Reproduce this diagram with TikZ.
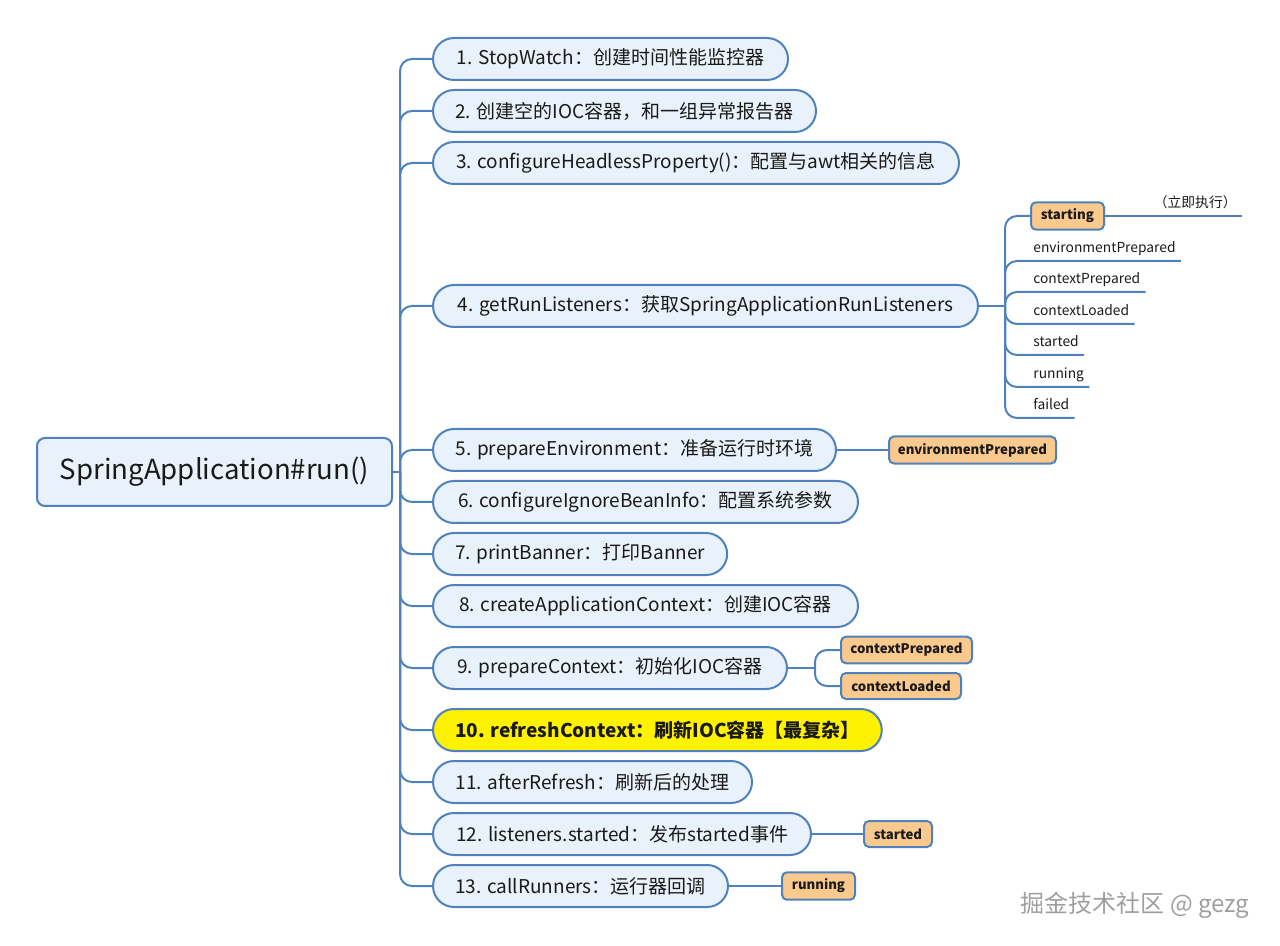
\documentclass[tikz,border=0pt]{standalone}
\usepackage{fontspec}
\setmainfont{Noto Sans CJK SC}
\usetikzlibrary{positioning}

\definecolor{linkblue}{HTML}{4F81BD}
\definecolor{stepfill}{HTML}{E9F1FA}
\definecolor{tagorange}{HTML}{FAC98E}
\definecolor{txt}{HTML}{1A1A1A}

\begin{document}
\begin{tikzpicture}[x=0.5pt,y=-0.5pt,
  link/.style={draw=linkblue,line width=1pt,rounded corners=6pt},
  stepbox/.style={rectangle,rounded corners=10.5pt,draw=linkblue,line width=1pt,fill=stepfill,minimum height=21pt,
    anchor=west,inner xsep=11pt,font=\fontsize{9.5}{12}\selectfont,text=txt},
  tag/.style={rectangle,rounded corners=2.5pt,draw=linkblue,line width=1pt,fill=tagorange,
    minimum height=13pt,inner xsep=3pt,anchor=west,font=\fontsize{6.6}{8}\selectfont\bfseries,text=txt},
  event/.style={inner xsep=2.5pt,inner ysep=1.5pt,text height=0.75em,text depth=0.25em,
    anchor=south west,font=\fontsize{6.9}{8}\selectfont,text=txt}]

  \useasboundingbox (0,0) rectangle (1280,946);

  \node[rectangle,rounded corners=4pt,draw=linkblue,line width=1pt,fill=stepfill,minimum width=177.5pt,
    minimum height=34pt,font=\fontsize{13.8}{16}\selectfont,text=txt] (root) at (214.5,472) {SpringApplication\#run()};
  \coordinate (hub) at ([xshift=3.5pt]root.east);
  \draw[link] (root.east) -- (hub);

  % steps of run()
  \foreach \n/\y/\w/\lab in {1/59/177.5/{1. StopWatch：创建时间性能监控器},
      2/111/191.5/{2. 创建空的IOC容器，和一组异常报告器},
      3/163/263/{3. configureHeadlessProperty()：配置与awt相关的信息},
      4/306/272.5/{4. getRunListeners：获取SpringApplicationRunListeners},
      5/450/201.5/{5. prepareEnvironment：准备运行时环境},
      6/502/212.5/{6. configureIgnoreBeanInfo：配置系统参数},
      7/554/147/{7. printBanner：打印Banner},
      8/606/212.5/{8. createApplicationContext：创建IOC容器},
      9/668/177/{9. prepareContext：初始化IOC容器},
      11/782/159.5/{11. afterRefresh：刷新后的处理},
      12/834/189/{12. listeners.started：发布started事件},
      13/886/147.5/{13. callRunners：运行器回调}}{
    \node[stepbox,minimum width=\w pt] (s\n) at (432,\y) {\lab};
    \draw[link] (hub) |- (s\n.west);
  }
  \node[stepbox,fill=yellow,minimum width=222.5pt,font=\fontsize{9.5}{12}\selectfont\bfseries] (s10) at (432,730)
    {10. refreshContext：刷新IOC容器【最复杂】};
  \draw[link] (hub) |- (s10.west);

  % listener events
  \coordinate (lhub) at ([xshift=13pt]s4.east);
  \draw[link] (s4.east) -- (lhub);
  \node[tag,minimum width=36.5pt] (starting) at (1030,216) {starting};
  \draw[link] (lhub) |- (starting.west);
  \node[event,anchor=south east,text width=52pt,align=right] (now) at (1242,216) {（立即执行）};
  \draw[link] (starting.east) -- (now.south west) -- (now.south east);
  \foreach \n/\y/\lab in {2/261/environmentPrepared, 3/292/contextPrepared, 4/324/contextLoaded,
      5/355/started, 6/387/running, 7/418/failed}{
    \node[event] (e\n) at (1028,\y) {\lab};
    \draw[link] (lhub) |- (e\n.south west) -- (e\n.south east);
  }

  % published events
  \node[tag,minimum width=83.5pt] (envprep) at (888,450) {environmentPrepared};
  \draw[link] (s5.east) -- (envprep.west);
  \node[tag,minimum width=65.5pt] (ctxprep) at (840,650) {contextPrepared};
  \node[tag,minimum width=60pt] (ctxload) at (840,686) {contextLoaded};
  \coordinate (chub) at ([xshift=13.5pt]s9.east);
  \draw[link] (s9.east) -- (chub);
  \draw[link] (chub) |- (ctxprep.west);
  \draw[link] (chub) |- (ctxload.west);
  \node[tag,minimum width=34pt] (started) at (863,834) {started};
  \draw[link] (s12.east) -- (started.west);
  \node[tag,minimum width=36.5pt] (running) at (781,886) {running};
  \draw[link] (s13.east) -- (running.west);

  \node[font=\fontsize{12}{14}\selectfont,text=gray!75] (mark) at (1135,905) {掘金技术社区 @ gezg};
\end{tikzpicture}
\end{document}
